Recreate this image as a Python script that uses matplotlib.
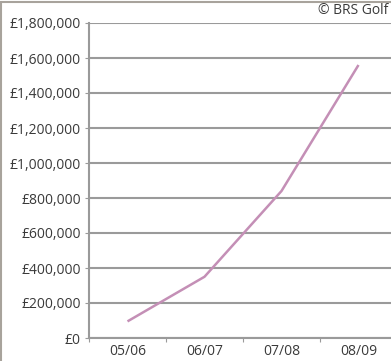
import matplotlib.pyplot as plt
from matplotlib.ticker import FuncFormatter
from matplotlib.patches import Rectangle

# --- Data ---
seasons = ['05/06', '06/07', '07/08', '08/09']
revenue = [95000, 350000, 840000, 1560000]
y_ticks = [0, 200000, 400000, 600000, 800000, 1000000, 1200000, 1400000, 1600000, 1800000]

GRID_COLOR = '#9a9a9a'
TEXT_COLOR = '#3a3a3a'
LINE_COLOR = '#c48fb6'

fig = plt.figure(figsize=(3.91, 3.61), dpi=100)
ax = fig.add_axes([89 / 391, 1 - 338 / 361, 308 / 391, 315 / 361])

x = [i + 0.5 for i in range(len(seasons))]
ax.plot(x, revenue, color=LINE_COLOR, linewidth=1.8, solid_capstyle='butt')

ax.set_xlim(0, len(seasons))
ax.set_ylim(0, 1800000)
ax.set_yticks(y_ticks)
ax.yaxis.set_major_formatter(FuncFormatter(lambda v, p: '£0' if v == 0 else f'£{int(v):,}'))
ax.set_xticks(range(len(seasons) + 1))
ax.set_xticklabels([])
ax.set_xticks(x, minor=True)
ax.set_xticklabels(seasons, minor=True)
ax.tick_params(axis='x', which='minor', length=0, pad=4, labelsize=10, labelcolor=TEXT_COLOR)
ax.tick_params(axis='x', which='major', length=3, color=GRID_COLOR)
ax.tick_params(axis='y', length=3, color=GRID_COLOR, labelsize=10, labelcolor=TEXT_COLOR, pad=3)

ax.grid(axis='y', color=GRID_COLOR, linewidth=1.5)
ax.set_axisbelow(True)
for side in ['top', 'right']:
    ax.spines[side].set_visible(False)
for side in ['left', 'bottom']:
    ax.spines[side].set_color(GRID_COLOR)
    ax.spines[side].set_linewidth(1.5)

for lab in ax.get_yticklabels() + ax.get_xticklabels(minor=True):
    lab.set_family(['Open Sans', 'DejaVu Sans'])

fig.text(388 / 391, 1 - 10 / 361, '© BRS Golf', ha='right', va='center',
         fontsize=10, color=TEXT_COLOR, family=['Open Sans', 'DejaVu Sans'])

# outer frame (left and top edges visible)
fig.patches.append(Rectangle((0.003, -0.01), 1.2, 1.0 - 0.003 + 0.01 - 0.002, transform=fig.transFigure,
                             fill=False, edgecolor='#a8a39c', linewidth=1.5))

fig.savefig('out.png', dpi=100)
